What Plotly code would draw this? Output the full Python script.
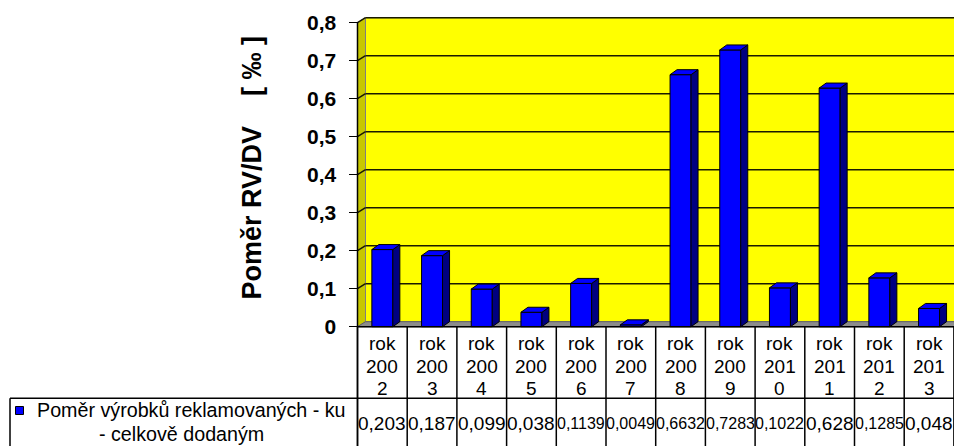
import plotly.graph_objects as go

# ---- data -------------------------------------------------------------
years = ["2002", "2003", "2004", "2005", "2006", "2007",
         "2008", "2009", "2010", "2011", "2012", "2013"]
ratio = [0.203, 0.187, 0.099, 0.038, 0.1139, 0.0049,
         0.6632, 0.7283, 0.1022, 0.628, 0.1285, 0.048]
y_ticks = [0, 0.1, 0.2, 0.3, 0.4, 0.5, 0.6, 0.7, 0.8]
series_name = ["Poměr výrobků reklamovaných - ku", "- celkově dodaným"]
axis_title = "Poměr RV/DV\u00a0\u00a0\u00a0\u00a0[\u00a0‰\u00a0]"

# ---- geometry of the drawing area ------------------------------------
W, H = 954, 446
X_LEFT = 357.5        # pixel column of the value axis
COL_W = 49.7          # width of one category column
Y_ZERO = 326.7        # pixel row of value 0
PX_PER_UNIT = 380.0   # pixels per 1.0 on the value axis

x_lo = -0.5 - X_LEFT / COL_W
x_hi = -0.5 + (W - X_LEFT) / COL_W
y_hi = Y_ZERO / PX_PER_UNIT
y_lo = -(H - Y_ZERO) / PX_PER_UNIT


def row(px):
    """value-axis coordinate of a pixel row"""
    return y_hi - px / PX_PER_UNIT


def col(px):
    """category-axis coordinate of a pixel column"""
    return x_lo + px / COL_W


FONT = "Liberation Sans, Arial, sans-serif"
BLUE, NAVY = "#0000FF", "#000080"
YELLOW, OLIVE = "#FFFF00", "#C8C800"

bar_w = 21 / COL_W            # bar front width
hw = bar_w / 2
bdx, bdy = 7 / COL_W, 5 / PX_PER_UNIT     # bar depth
wdx, wdy = 8 / COL_W, 5 / PX_PER_UNIT     # wall depth
x_axis0 = -0.5
y_top = y_ticks[-1]

xs = list(range(len(years)))

fig = go.Figure()
fig.add_trace(go.Bar(
    x=xs, y=ratio, width=bar_w,
    marker=dict(color=BLUE, line=dict(color="black", width=1)),
    hoverinfo="skip", showlegend=False,
))

shapes = []


def poly(pts, fill, line="black", lw=1, layer="above"):
    path = "M " + " L ".join(f"{x},{y}" for x, y in pts) + " Z"
    shapes.append(dict(type="path", xref="x", yref="y", path=path,
                       fillcolor=fill, line=dict(color=line, width=lw),
                       layer=layer))


def seg(x0, y0, x1, y1, color="black", lw=1.5, layer="above"):
    shapes.append(dict(type="line", xref="x", yref="y", x0=x0, y0=y0,
                       x1=x1, y1=y1, line=dict(color=color, width=lw),
                       layer=layer))


# back wall, side wall and floor
poly([(x_axis0 + wdx, wdy), (x_hi + 1, wdy), (x_hi + 1, y_top + wdy),
      (x_axis0 + wdx, y_top + wdy)], YELLOW, line="#808080", layer="below")
poly([(x_axis0, 0), (x_axis0 + wdx, wdy), (x_axis0 + wdx, y_top + wdy),
      (x_axis0, y_top)], OLIVE, line="#808080", layer="below")
poly([(x_axis0, 0), (x_hi + 1, 0), (x_hi + 1 + wdx, wdy),
      (x_axis0 + wdx, wdy)], "#8C8C8C", line="#606060", layer="below")

# gridlines on the walls
for t in y_ticks[1:]:
    seg(x_axis0 + wdx, t + wdy, x_hi + 1, t + wdy, color="#1A1A00", layer="below")
    seg(x_axis0, t, x_axis0 + wdx, t + wdy, color="#1A1A00", layer="below")

# 3-D sides and tops of the columns
for x, v in zip(xs, ratio):
    poly([(x + hw, 0), (x + hw + bdx, bdy), (x + hw + bdx, v + bdy),
          (x + hw, v)], NAVY)
    poly([(x - hw, v), (x - hw + bdx, v + bdy), (x + hw + bdx, v + bdy),
          (x + hw, v)], BLUE)

# value axis line and category axis line
seg(x_axis0, y_top, x_axis0, y_lo - 1, lw=1.5)
seg(x_axis0, 0, x_hi + 1, 0, lw=1.5)

# data table grid
table_split = row(398.3)
for i in range(len(years) + 1):
    seg(x_axis0 + i, 0, x_axis0 + i, y_lo - 1, lw=1.5)
seg(col(10), table_split, x_hi + 1, table_split, lw=1.5)
seg(col(10), table_split, col(10), y_lo - 1, lw=1.5)

# legend key in the table
shapes.append(dict(type="rect", xref="x", yref="y",
                   x0=col(15.5), x1=col(23.5), y0=row(414.5), y1=row(406.5),
                   fillcolor=BLUE, line=dict(color="black", width=1)))

annotations = []
for x, yr, v in zip(xs, years, ratio):
    for txt, py in (("rok", 343), (yr[:3], 366), (yr[3:], 388)):
        annotations.append(dict(x=x, y=row(py), xref="x", yref="y",
                                text=txt, showarrow=False,
                                font=dict(family=FONT, size=19, color="black"),
                                xanchor="center", yanchor="middle"))
    label = str(v).replace(".", ",")
    # longer numbers get a smaller size so they stay inside their cell
    size = 19 if len(label) <= 5 else 16
    annotations.append(dict(x=x, y=row(423), xref="x", yref="y",
                            text=label, showarrow=False,
                            font=dict(family=FONT, size=size, color="black"),
                            xanchor="center", yanchor="middle"))

annotations.append(dict(x=col(34.5), y=row(410), xref="x", yref="y",
                        text=series_name[0], showarrow=False,
                        font=dict(family=FONT, size=19.7, color="black"),
                        xanchor="left", yanchor="middle"))
annotations.append(dict(x=col(181), y=row(434), xref="x", yref="y",
                        text=series_name[1], showarrow=False,
                        font=dict(family=FONT, size=19.7, color="black"),
                        xanchor="center", yanchor="middle"))

annotations.append(dict(x=col(251), y=row(167.5), xref="x", yref="y",
                        text="<b>" + axis_title + "</b>", showarrow=False,
                        textangle=-90,
                        font=dict(family=FONT, size=27, color="black"),
                        xanchor="center", yanchor="middle"))

fig.update_layout(
    width=W, height=H, autosize=False,
    margin=dict(l=0, r=0, t=0, b=0, pad=0),
    paper_bgcolor="white", plot_bgcolor="white",
    separators=", ",
    showlegend=False,
    xaxis=dict(range=[x_lo, x_hi], visible=False, fixedrange=True),
    yaxis=dict(range=[y_lo, y_hi], anchor="free", position=X_LEFT / W,
               side="left", showline=False, showgrid=False, zeroline=False,
               tickmode="array", tickvals=y_ticks,
               ticks="outside", ticklen=9, tickwidth=1.5, tickcolor="black",
               ticklabelstandoff=8,
               tickfont=dict(family=FONT, size=21, color="black", weight="bold"),
               fixedrange=True),
    shapes=shapes,
    annotations=annotations,
)

fig.write_html("out.html", config={"displayModeBar": False, "staticPlot": True})
